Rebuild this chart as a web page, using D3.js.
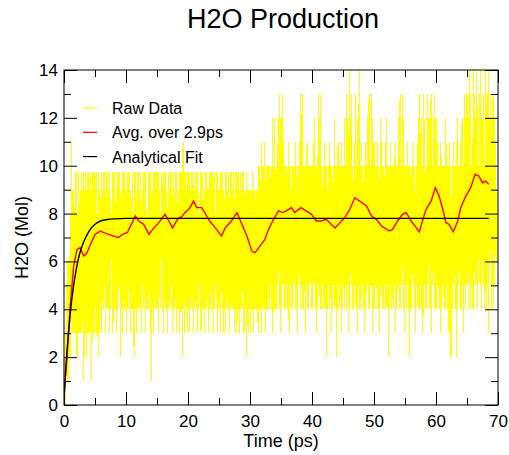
<!DOCTYPE html>
<html><head><meta charset="utf-8">
<script src="https://cdn.jsdelivr.net/npm/d3@7"></script>
<style>
body{margin:0;background:#fff}
svg{display:block}
text{font-family:"Liberation Sans",Arial,Helvetica,sans-serif;fill:#000}
</style>
</head><body>
<svg id="c" width="509" height="455"></svg>
<script>
// ---------- data ----------
const title = "H2O Production";
const xLabel = "Time (ps)";
const yLabel = "H2O (Mol)";
const xTicks = [0, 10, 20, 30, 40, 50, 60, 70];
const xMinorTicks = [5, 15, 25, 35, 45, 55, 65];
const yTicks = [0, 2, 4, 6, 8, 10, 12, 14];
const yMinorTicks = [1, 3, 5, 7, 9, 11, 13];
const legendLabels = ["Raw Data", "Avg. over 2.9ps", "Analytical Fit"];

// Raw data: per 0.2 ps bin, maximum and minimum level
// ('0'-'9','a'-'e' = 0..14, 'x' = 9.75)
const rawStep = 0.2;
const rawHi = [
 "13566","8b99x","x8x9x","9xx9x","xx9xx","xx8x9","x9xxx","x9x8x","xx9xx","x9xxx",
 "9xxx9","x8xxx","x9x9x","xx8xx","x9xxx","xx98x","xxx9x","9xxx9","xx9xx","xbxx9",
 "xx9xx","x9xx8","xxx9x","x9xxx","xx8xx","9xxx9","xx9xx","x9xxx","xxx9x","x9x99",
 "99x99","99aab","aabaa","aaaca","cabcd","cdbaa","abaaa","aabaa","bddaa","abaaa",
 "abcaa","dcdaa","baaab","aaaca","abaab","acadc","ecdab","dacea","baaba","cdadc",
 "baaba","cbaab","caaba","aabaa","cdadc","aabaa","abaaa","bcdca","dcadc","cdacd",
 "cbaab","aaaca","abaab","aacaa","bcadc","dceda","edcea","decda","edecd","cdcb9"
].join("");
const rawLo = [
 "00112","23333","23333","12323","33133","43234","34534","43463","44345","24344",
 "34434","42434","44354","34443","14344","43464","34434","45344","34434","24343",
 "43443","44345","34434","43444","34534","43434","34434","44343","43443","34234",
 "34344","43443","44344","45434","44543","45445","43544","54435","45443","54454",
 "45434","54454","42454","34542","45434","54453","45445","43544","54345","44534",
 "45443","54454","42454","45345","44543","54424","45435","44543","54454","43544",
 "45434","54454","32245","42454","45345","54454","45546","54654","45364","54567"
].join("");

// Running average (2.9 ps window)
const avgTime = [0.1,0.5,1.0,1.56,2.1,2.6,3.2,3.7,4.5,5.0,5.86,6.4,7.2,8.0,8.8,9.4,10.2,11.0,11.5,12.0,12.85,13.7,14.5,15.3,16.3,16.9,17.5,18.4,19.0,19.5,20.2,20.9,21.4,22.2,22.7,23.5,24.6,25.4,26.0,27.0,27.9,28.7,29.5,30.3,30.8,31.6,32.4,33.0,33.8,34.6,35.3,35.8,36.7,37.2,38.2,39.1,39.9,40.7,41.5,42.3,43.1,43.7,44.5,45.3,46.1,46.9,47.7,48.8,49.6,50.4,51.2,52.0,52.5,53.0,53.8,54.6,55.2,56.0,56.8,57.3,57.9,58.4,59.2,59.9,60.5,61.1,61.6,62.1,62.8,63.5,64.0,64.8,65.6,66.3,66.9,67.5,68.0,68.5];
const avgValue = [0.67,2.05,4.14,5.8,6.5,6.57,6.23,6.36,6.85,7.13,7.27,7.2,7.13,7.06,7.0,7.13,7.2,7.62,7.9,7.7,7.55,7.13,7.4,7.62,7.97,7.7,7.4,7.8,7.87,8.04,8.2,8.52,8.25,8.25,8.04,7.69,7.34,7.06,7.4,7.69,8.04,7.55,7.06,6.43,6.36,6.64,6.92,7.34,7.76,8.11,8.04,8.1,8.25,8.04,8.25,8.1,7.97,7.69,7.69,7.76,7.55,7.4,7.62,7.83,8.18,8.66,8.52,8.32,7.9,7.76,7.48,7.35,7.27,7.34,7.69,7.97,8.04,7.69,7.41,7.23,7.76,8.18,8.52,9.08,8.73,8.18,7.62,7.55,7.24,7.69,8.25,8.73,9.08,9.64,9.57,9.29,9.36,9.22];

// Analytical fit
const fitTime = [0,0.25,0.5,0.75,1,1.5,2,2.5,3,3.5,4,5,6,7,8,10,20,40,68.5];
const fitValue = [0.2,1.4,2.3,3.1,3.8,4.9,5.7,6.3,6.7,7.0,7.25,7.55,7.7,7.75,7.78,7.8,7.8,7.8,7.8];

// ---------- chart ----------
const W = 509, H = 455;
const margin = {left: 64, right: 11, top: 70, bottom: 50};
const iw = W - margin.left - margin.right, ih = H - margin.top - margin.bottom;

const x = d3.scaleLinear().domain([0, 70]).range([0, iw]);
const y = d3.scaleLinear().domain([0, 14]).range([ih, 0]);

const svg = d3.select("#c");
svg.append("text").attr("x", margin.left + iw / 2 + 2).attr("y", 28)
  .attr("text-anchor", "middle").style("font-size", "27px").text(title);

const g = svg.append("g").attr("transform", `translate(${margin.left},${margin.top})`);

svg.append("defs").append("clipPath").attr("id", "clip")
  .append("rect").attr("width", iw).attr("height", ih);

const level = ch => ch === "x" ? 9.75 : parseInt(ch, 16);
const rawPts = [];
for (let i = 0; i < rawHi.length; i++) {
  rawPts.push([i * rawStep, level(rawHi[i])]);
  rawPts.push([i * rawStep + rawStep / 2, level(rawLo[i])]);
}
const line = d3.line().x(d => x(d[0])).y(d => y(d[1]));
const plot = g.append("g").attr("clip-path", "url(#clip)");
plot.append("path").datum(rawPts).attr("d", line)
  .attr("fill", "none").attr("stroke", "#ffff00").attr("stroke-width", 1)
  .attr("shape-rendering", "crispEdges");

const avgPts = avgTime.map((t, i) => [t, avgValue[i]]);
plot.append("path").datum(avgPts).attr("d", line)
  .attr("fill", "none").attr("stroke", "#ff0000").attr("stroke-width", 1.4);

const fitPts = fitTime.map((t, i) => [t, fitValue[i]]);
plot.append("path").datum(fitPts).attr("d", line.curve(d3.curveMonotoneX))
  .attr("fill", "none").attr("stroke", "#000").attr("stroke-width", 1.4);

// axes with inward ticks on all sides
function styleAxis(sel) {
  sel.select(".domain").remove();
  sel.selectAll("line").attr("stroke", "#000").attr("stroke-width", 1);
  sel.selectAll("text").style("font-size", "17px").attr("fill", "#000");
}
g.append("g").attr("transform", `translate(0,${ih})`)
  .call(d3.axisBottom(x).tickValues(xTicks).tickSize(-13).tickPadding(10).tickFormat(d3.format("d")))
  .call(styleAxis);
g.append("g").attr("transform", `translate(0,${ih})`)
  .call(d3.axisBottom(x).tickValues(xMinorTicks).tickSize(-7).tickFormat(""))
  .call(styleAxis);
g.append("g")
  .call(d3.axisTop(x).tickValues(xTicks).tickSize(-13).tickFormat(""))
  .call(styleAxis);
g.append("g")
  .call(d3.axisTop(x).tickValues(xMinorTicks).tickSize(-7).tickFormat(""))
  .call(styleAxis);
g.append("g")
  .call(d3.axisLeft(y).tickValues(yTicks).tickSize(-13).tickPadding(6).tickFormat(d3.format("d")))
  .call(styleAxis);
g.append("g")
  .call(d3.axisLeft(y).tickValues(yMinorTicks).tickSize(-7).tickFormat(""))
  .call(styleAxis);
g.append("g").attr("transform", `translate(${iw},0)`)
  .call(d3.axisRight(y).tickValues(yTicks).tickSize(-13).tickFormat(""))
  .call(styleAxis);
g.append("g").attr("transform", `translate(${iw},0)`)
  .call(d3.axisRight(y).tickValues(yMinorTicks).tickSize(-7).tickFormat(""))
  .call(styleAxis);

g.append("rect").attr("width", iw).attr("height", ih)
  .attr("fill", "none").attr("stroke", "#000").attr("stroke-width", 1);

// axis labels
svg.append("text").attr("x", margin.left + iw / 2).attr("y", 447)
  .attr("text-anchor", "middle").style("font-size", "18px").text(xLabel);
svg.append("text").attr("transform", `translate(28,${margin.top + ih / 2}) rotate(-90)`)
  .attr("text-anchor", "middle").style("font-size", "18px").text(yLabel);

// legend
const legendColors = ["#ffff00", "#ff0000", "#000000"];
const lg = g.append("g").attr("transform", "translate(19,38)");
legendLabels.forEach((lab, i) => {
  const row = lg.append("g").attr("transform", `translate(0,${i * 24.3})`);
  row.append("line").attr("x1", 0).attr("x2", 14).attr("y1", 0).attr("y2", 0)
    .attr("stroke", legendColors[i]).attr("stroke-width", 1.2);
  row.append("text").attr("x", 29).attr("y", 6).style("font-size", "16px").text(lab);
});
</script>
</body></html>
